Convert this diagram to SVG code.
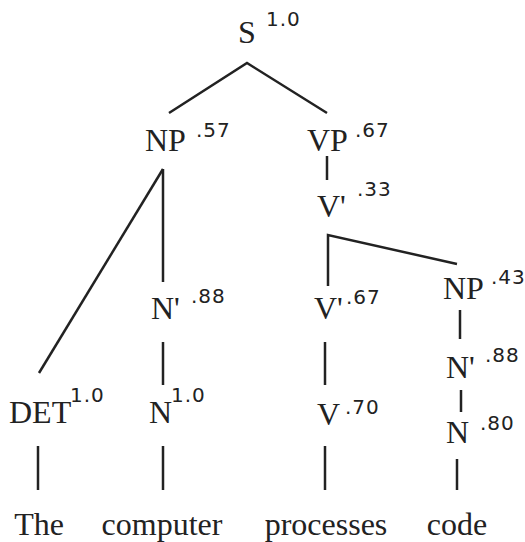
<svg xmlns="http://www.w3.org/2000/svg" width="525" height="542" viewBox="0 0 525 542">
<style>
.lbl{font-family:'Liberation Serif','Times New Roman',Times,serif;font-size:32px;fill:#222}
.sup{font-family:'DejaVu Sans','Liberation Sans',sans-serif;font-size:20px;fill:#222;letter-spacing:1px}
.w{font-family:'Liberation Serif','Times New Roman',Times,serif;font-size:32px;fill:#222;text-anchor:middle}
.e{stroke:#222;stroke-width:2.5;fill:none}
</style>
<rect width="525" height="542" fill="#fff"/>
<g id="connectors">
<polyline class="e" points="169,113 247,63 327,113"/>
<line class="e" x1="163" y1="169" x2="163" y2="282"/>
<line class="e" x1="163" y1="169" x2="39" y2="373"/>
<line class="e" x1="163" y1="342" x2="163" y2="385"/>
<line class="e" x1="327" y1="156" x2="327" y2="180"/>
<polyline class="e" points="328,286 328,235 457,264"/>
<line class="e" x1="325" y1="342" x2="325" y2="385"/>
<line class="e" x1="460" y1="310" x2="460" y2="339"/>
<line class="e" x1="461" y1="390" x2="461" y2="412"/>
<line class="e" x1="38" y1="446" x2="38" y2="490"/>
<line class="e" x1="163" y1="446" x2="163" y2="490"/>
<line class="e" x1="325" y1="446" x2="325" y2="490"/>
<line class="e" x1="457" y1="459" x2="457" y2="490"/>
</g>
<g id="S"><text class="lbl" x="238" y="43">S</text><text class="sup" x="266" y="26">1.0</text></g>
<g id="NP1"><text class="lbl" x="145" y="151">NP</text><text class="sup" x="196" y="137">.57</text></g>
<g id="VP"><text class="lbl" x="307" y="151">VP</text><text class="sup" x="355" y="137">.67</text></g>
<g id="Vbar1"><text class="lbl" x="317" y="217">V'</text><text class="sup" x="357" y="196">.33</text></g>
<g id="Nbar1"><text class="lbl" x="151" y="319">N'</text><text class="sup" x="191" y="303">.88</text></g>
<g id="Vbar2"><text class="lbl" x="314" y="319">V'</text><text class="sup" x="346" y="304">.67</text></g>
<g id="NP2"><text class="lbl" x="443" y="299">NP</text><text class="sup" x="491" y="284">.43</text></g>
<g id="Nbar2"><text class="lbl" x="446" y="378">N'</text><text class="sup" x="485" y="362">.88</text></g>
<g id="DET"><text class="lbl" x="9" y="423">DET</text><text class="sup" x="70" y="402">1.0</text></g>
<g id="N1"><text class="lbl" x="149" y="423">N</text><text class="sup" x="171" y="402">1.0</text></g>
<g id="V"><text class="lbl" x="317" y="425">V</text><text class="sup" x="345" y="414">.70</text></g>
<g id="N2"><text class="lbl" x="446" y="443">N</text><text class="sup" x="480" y="430">.80</text></g>
<g id="words">
<text class="w" x="39" y="535">The</text>
<text class="w" x="162" y="535">computer</text>
<text class="w" x="326" y="535">processes</text>
<text class="w" x="457" y="535">code</text>
</g>
</svg>
